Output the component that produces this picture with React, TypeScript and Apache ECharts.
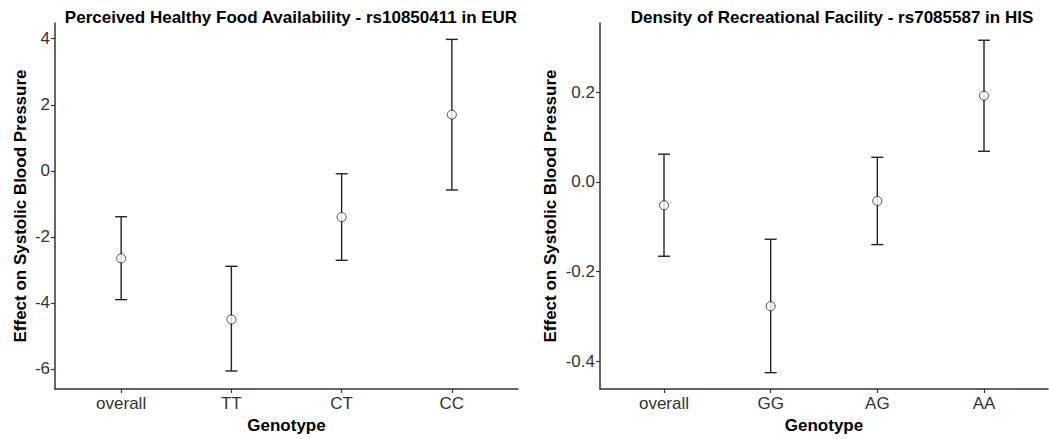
import React, { useEffect, useRef } from "react";
import * as echarts from "echarts";

const leftCategories = ["overall", "TT", "CT", "CC"];
const leftEstimate = [-2.65, -4.5, -1.4, 1.7];
const leftLower = [-3.9, -6.06, -2.71, -0.58];
const leftUpper = [-1.39, -2.89, -0.09, 3.98];
const leftTicks = [-6, -4, -2, 0, 2, 4];

const rightCategories = ["overall", "GG", "AG", "AA"];
const rightEstimate = [-0.052, -0.2775, -0.0425, 0.1925];
const rightLower = [-0.166, -0.426, -0.14, 0.0685];
const rightUpper = [0.062, -0.128, 0.055, 0.3165];
const rightTicks = [-0.4, -0.2, 0.0, 0.2];

const leftTitle = "Perceived Healthy Food Availability - rs10850411 in EUR";
const rightTitle = "Density of Recreational Facility - rs7085587 in HIS";
const yName = "Effect on Systolic Blood Pressure";
const xName = "Genotype";

const FONT = "Liberation Sans, Arial, Helvetica, sans-serif";
const AXIS_COLOR = "#333333";
const LABEL_COLOR = "#333333";

export default function App() {
  const ref = useRef<HTMLDivElement>(null);
  useEffect(() => {
    if (!ref.current) return;
    const chart = echarts.init(ref.current, undefined, { renderer: "svg" });

    const grids = [
      { left: 55, right: 531, top: 23, bottom: 50 },
      { left: 600, right: 1, top: 23, bottom: 50 },
    ];

    const mkX = (idx: number, cats: string[]) => ({
      type: "value",
      gridIndex: idx,
      min: 0.4,
      max: 4.6,
      name: xName,
      nameLocation: "middle",
      nameGap: 26,
      nameTextStyle: { fontFamily: FONT, fontWeight: "bold", fontSize: 17, color: "#000" },
      splitLine: { show: false },
      axisLine: { onZero: false, lineStyle: { color: AXIS_COLOR, width: 1.5 } },
      axisTick: { customValues: [1, 2, 3, 4], length: 4, lineStyle: { color: AXIS_COLOR, width: 1.2 } },
      axisLabel: {
        customValues: [1, 2, 3, 4],
        formatter: (v: number) => cats[Math.round(v) - 1] ?? "",
        fontFamily: FONT,
        fontSize: 17,
        color: LABEL_COLOR,
        margin: 6,
      },
    });

    const mkY = (idx: number, min: number, max: number, ticks: number[], dec: number) => ({
      type: "value",
      gridIndex: idx,
      min,
      max,
      name: yName,
      nameLocation: "middle",
      nameGap: idx === 0 ? 26 : 41,
      nameTextStyle: { fontFamily: FONT, fontWeight: "bold", fontSize: 17, color: "#000" },
      splitLine: { show: false },
      axisLine: { show: true, onZero: false, lineStyle: { color: AXIS_COLOR, width: 1.5 } },
      axisTick: { show: true, customValues: ticks, length: 4, lineStyle: { color: AXIS_COLOR, width: 1.2 } },
      axisLabel: {
        customValues: ticks,
        formatter: (v: number) => v.toFixed(dec),
        fontFamily: FONT,
        fontSize: 17,
        color: LABEL_COLOR,
        margin: 5,
      },
    });

    const errData = (lo: number[], hi: number[]) => lo.map((l, i) => [i + 1, l, hi[i]]);
    const ptData = (est: number[]) => est.map((e, i) => [i + 1, e]);

    const renderErr = (params: any, api: any) => {
      const x = api.value(0);
      const lo = api.coord([x, api.value(1)]);
      const hi = api.coord([x, api.value(2)]);
      const half = 6;
      const style = { stroke: "#222222", lineWidth: 1.4 };
      return {
        type: "group",
        children: [
          { type: "line", shape: { x1: lo[0], y1: lo[1], x2: hi[0], y2: hi[1] }, style },
          { type: "line", shape: { x1: lo[0] - half, y1: lo[1], x2: lo[0] + half, y2: lo[1] }, style },
          { type: "line", shape: { x1: hi[0] - half, y1: hi[1], x2: hi[0] + half, y2: hi[1] }, style },
        ],
      };
    };

    const titleStyle = { fontFamily: FONT, fontWeight: "bold", fontSize: 17, color: "#000" };

    const option = {
      animation: false,
      backgroundColor: "#ffffff",
      title: [
        { text: leftTitle, left: 286, top: 4, textAlign: "center", textStyle: titleStyle },
        { text: rightTitle, left: 827, top: 4, textAlign: "center", textStyle: titleStyle },
      ],
      grid: grids,
      xAxis: [mkX(0, leftCategories), mkX(1, rightCategories)],
      yAxis: [mkY(0, -6.606, 4.476, leftTicks, 0), mkY(1, -0.4625, 0.355, rightTicks, 1)],
      series: [
        { type: "custom", xAxisIndex: 0, yAxisIndex: 0, data: errData(leftLower, leftUpper), renderItem: renderErr, z: 2 },
        {
          type: "scatter", xAxisIndex: 0, yAxisIndex: 0, data: ptData(leftEstimate),
          symbol: "circle", symbolSize: 9,
          itemStyle: { color: "#ffffff", borderColor: "#222222", borderWidth: 1 }, z: 3,
        },
        { type: "custom", xAxisIndex: 1, yAxisIndex: 1, data: errData(rightLower, rightUpper), renderItem: renderErr, z: 2 },
        {
          type: "scatter", xAxisIndex: 1, yAxisIndex: 1, data: ptData(rightEstimate),
          symbol: "circle", symbolSize: 9,
          itemStyle: { color: "#ffffff", borderColor: "#222222", borderWidth: 1 }, z: 3,
        },
      ],
    };
    chart.setOption(option as any);
    return () => chart.dispose();
  }, []);

  return (
    <div
      ref={ref}
      style={{ position: "fixed", left: 0, top: 0, width: 1049, height: 439, background: "#fff" }}
    />
  );
}
